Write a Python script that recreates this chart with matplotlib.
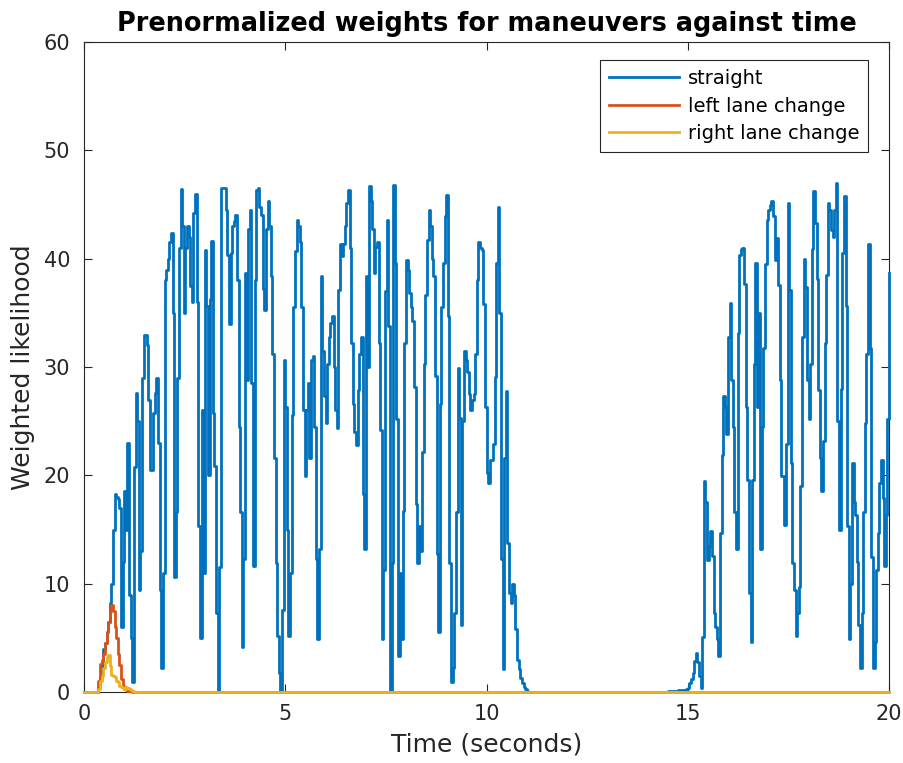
import matplotlib.pyplot as plt
import numpy as np

# time step of the traces (seconds)
dt = 0.04
t_end = 20.0

# "straight" weights, first active stretch (starts at 0.36 s)
straight_a_start = 0.36
straight_a = [
    0.5, 1.4, 2.5, 4, 4.5, 5.5, 6.5, 8.2, 10, 15, 18.3, 18, 17.8, 17, 6, 12, 18.6, 15, 23, 9,
    5, 0.9, 20.8, 27.6, 25, 9.4, 13, 29, 33, 33, 32, 27, 20.5, 20.5, 25.8, 27.6, 29, 23, 9.4, 2.2,
    11, 38, 39, 40, 41.5, 42.4, 35, 10.6, 16.6, 29, 41, 46.4, 43, 35, 41, 43, 42, 37.5, 36, 44.2,
    46, 36, 15.3, 5, 26, 11, 40.8, 35.6, 20, 36.3, 41.6, 25.8, 20.9, 7.3, 0, 11.5, 46.5, 46.5, 46.5, 44.5,
    40.3, 34, 40.5, 43, 43.5, 44, 38, 24.5, 16.6, 4.2, 12.3, 38.7, 28.8, 42.7, 44.5, 28.5, 11.6, 38, 46.3, 46.5,
    44.8, 44, 37.2, 35.3, 42.7, 45.3, 43, 38.4, 31.2, 21.6, 11.9, 5.2, 1.8, 0, 7.6, 30.6, 26.3, 15, 5.2, 11,
    25.6, 35.5, 40.7, 43.6, 43, 41.5, 35.5, 26, 19.9, 26, 28.5, 21.6, 30.6, 31, 24.5, 12.3, 4.9, 13.2, 38.4, 31.5,
    27.3, 24.8, 30.3, 32.8, 34.1, 34.7, 30, 26, 24.4, 37.1, 41.4, 40.2, 41.4, 43, 45.1, 46.3, 41, 32.2, 26.6, 24,
    22.8, 27.9, 31.2, 32.8, 18.3, 13.2, 38.4, 30, 46.7, 45.3, 42.7, 38.7, 41.1, 41.5, 32.2, 24.2, 4.9, 11.3, 37, 43.6,
    33.8, 0, 11.9, 46.8, 39.6, 25.2, 3.3, 11, 4.9, 16.7, 32.2, 39.9, 39, 36.8, 35.5, 34.2, 28.2, 17.4, 11.9, 15.3,
    13, 22.2, 30.3, 36.6, 41.7, 44.5, 43, 40, 38.4, 29.2, 12.7, 5.5, 26.6, 35.5, 39.6, 43.9, 45.9, 34.7, 11.9, 0.9,
    2.2, 7.3, 16.6, 29.9, 25.3, 6.2, 25, 31.5, 30.6, 29.5, 27.5, 26, 27, 27.5, 31.2, 38, 41.5, 41, 40.8, 35.8,
    26.3, 20.2, 19.3, 21.4, 21.4, 22.9, 29.1, 39.6, 44.8, 35, 12.3, 2.1, 21.6, 27.8, 13.8, 9.1, 8.2, 10, 9, 5.8,
    3, 2.1, 1.3, 0.8, 0.5, 0.3, 0.1,
]

# "straight" weights, second active stretch (starts at 14.52 s)
straight_b_start = 14.52
straight_b = [
    0.1, 0.1, 0.05, 0.05, 0.05, 0.05, 0.2, 0.2, 0.2, 0.2, 0.2, 0.3, 0.4, 0.8, 1.2, 1.8, 2.9, 3.6, 2.8, 1.5,
    0.4, 5.1, 19.5, 17.5, 12.2, 13.5, 14.9, 12.6, 7.3, 6, 4.9, 3.3, 14.7, 21.9, 27.3, 26.3, 23.8, 32.8, 35.9, 28.8,
    24.5, 16.6, 13.2, 33.1, 40.3, 40.9, 41, 37.7, 26.3, 19.6, 9.1, 4.6, 19.6, 30.3, 39.6, 26.3, 35, 13.2, 24.5, 31.8,
    39.5, 43.6, 44.5, 45, 45.3, 43.9, 39.9, 41.9, 37.6, 28.8, 19.9, 19.9, 15.4, 22.9, 45.1, 37.1, 21.1, 11.9, 9.4, 5.2,
    7.3, 9.7, 19, 32.8, 40, 37.4, 28.8, 25.2, 30.3, 40.9, 46.2, 43.3, 38.1, 27.9, 21.6, 18.6, 23.2, 32.2, 38.5, 45.1,
    44.5, 42.6, 42, 44.5, 47, 25, 15, 28, 40.5, 45.8, 35.6, 15.3, 4.9, 10, 21.1, 17.5, 16.3, 12, 6.2, 2.2,
    7.3, 16.6, 24.8, 31.2, 41.4, 31.8, 12.5, 2.2, 4.6, 11.3, 14.7, 19.3, 21.4, 17.9, 11.6, 16.3, 25.2, 38.7,
]

# lane change weights, only non-zero near the start (from 0.36 s)
lane_start = 0.36
left_lane = [1, 2.6, 3, 3.5, 4.5, 5.5, 6.5, 7.5, 8, 7.5, 6, 5, 3.5, 2.5, 1.2, 0.6, 0.3, 0.2, 0.1, 0.1, 0.05, 0]
right_lane = [0.3, 1, 1.5, 2.2, 2.8, 3.2, 3.4, 2.4, 1.6, 1.5, 1.4, 1.0, 0.9, 0.6, 0.5, 0.4, 0.3, 0.5, 0.4, 0.3, 0.2, 0.1]

labels = ["straight", "left lane change", "right lane change"]
colors = ["#0072BD", "#D95319", "#EDB120"]

t = np.arange(0, t_end + dt / 2, dt)


def trace(parts):
    y = np.zeros(len(t))
    for start, vals in parts:
        i0 = int(round(start / dt))
        y[i0:i0 + len(vals)] = vals[:len(t) - i0]
    return y


series = [
    trace([(straight_a_start, straight_a), (straight_b_start, straight_b)]),
    trace([(lane_start, left_lane)]),
    trace([(lane_start, right_lane)]),
]

plt.rcParams['font.family'] = ['DejaVu Sans']
axcol = '#262626'

fig = plt.figure(figsize=(9.04, 7.63), dpi=100)
ax = fig.add_axes([84 / 904, 1 - 692 / 763, (889 - 84) / 904, (692 - 42) / 763])

for y, lab, c in zip(series, labels, colors):
    ax.step(t, y, where='post', color=c, lw=2.0, label=lab, clip_on=False, zorder=3)

ax.set_xlim(0, 20)
ax.set_ylim(0, 60)
ax.set_xticks([0, 5, 10, 15, 20])
ax.set_yticks([0, 10, 20, 30, 40, 50, 60])
ax.tick_params(direction='in', length=6, width=0.8, colors=axcol, labelsize=15,
               top=True, right=True)
ax.tick_params(axis='x', pad=9)
ax.tick_params(axis='y', pad=10)
for s in ax.spines.values():
    s.set_color(axcol)
    s.set_linewidth(0.8)

ax.set_xlabel("Time (seconds)", fontsize=18, color=axcol, labelpad=6)
ax.set_ylabel("Weighted likelihood", fontsize=18, color=axcol, labelpad=6)
ax.set_title("Prenormalized weights for maneuvers against time", fontsize=18.4,
             fontweight='bold', color='black', pad=8)

leg = ax.legend(loc='upper right', bbox_to_anchor=(868 / 904, 1 - 60 / 763),
                bbox_transform=fig.transFigure, borderaxespad=0, fancybox=False,
                framealpha=1, edgecolor=axcol, fontsize=14, handlelength=3.6,
                handletextpad=0.45, labelspacing=0.45, borderpad=0.45)
leg.get_frame().set_linewidth(0.8)
leg.set_zorder(5)

fig.savefig("out.png", dpi=100)
